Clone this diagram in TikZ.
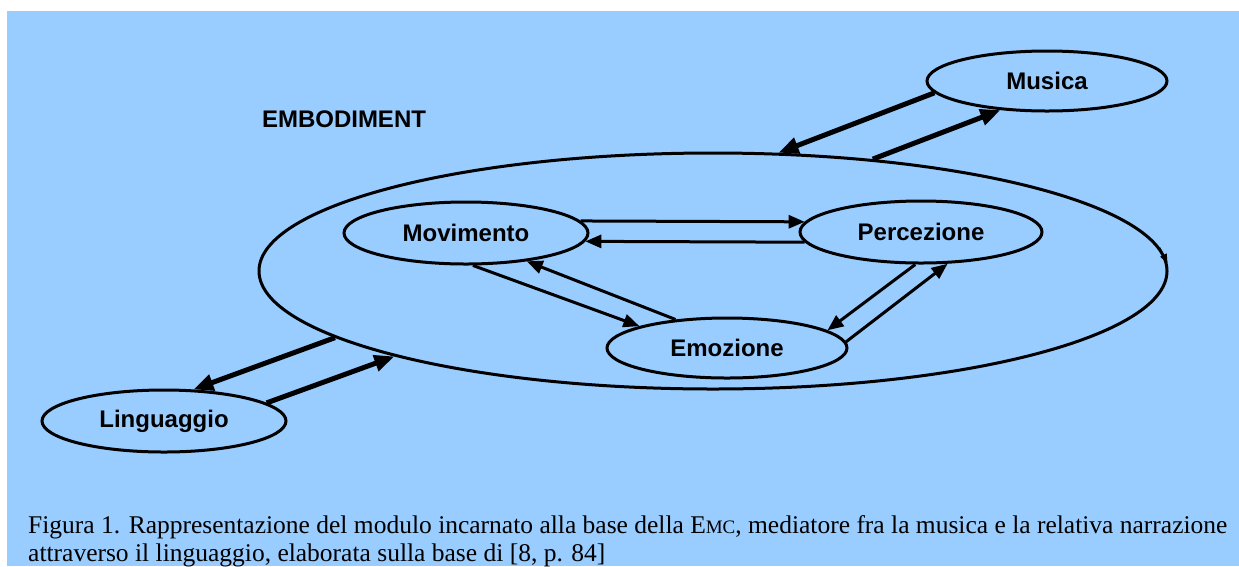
\documentclass[tikz,border=0pt]{standalone}
\usepackage{fontspec}
\setmainfont{Liberation Serif}
\newfontfamily\boxfont{Liberation Sans}
\usetikzlibrary{arrows.meta,shapes.geometric}
\definecolor{skyback}{RGB}{153,204,255}

\begin{document}
\begin{tikzpicture}[x=1pt,y=-1pt,
   bubble/.style={draw,ellipse,line width=3pt,inner sep=0pt,
      font=\boxfont\bfseries\fontsize{24}{28}\selectfont},
   link/.style={line width=3pt,-{Triangle[length=16pt,width=13pt]}},
   biglink/.style={line width=5pt,-{Triangle[length=20pt,width=16pt]}},
   captext/.style={anchor=base west,inner sep=0pt,font=\fontsize{25.5}{30}\selectfont}]
   \useasboundingbox (0,0) rectangle (1239,566);
   \fill[skyback] (7,11) rectangle (1239,566);

   \node[bubble,minimum width=908pt,minimum height=236pt] (body) at (713,271) {};
   \node[font=\boxfont\bfseries\fontsize{24}{28}\selectfont] (embod) at (344,119) {EMBODIMENT};

   \node[bubble,minimum width=244pt,minimum height=62pt] (mov) at (466,233) {Movimento};
   \node[bubble,minimum width=242pt,minimum height=62pt] (perc) at (921,232) {Percezione};
   \node[bubble,minimum width=240pt,minimum height=60pt] (emo) at (727,348) {Emozione};
   \node[bubble,minimum width=240pt,minimum height=60pt] (mus) at (1047,81) {Musica};
   \node[bubble,minimum width=244pt,minimum height=62pt] (ling) at (164,421) {Linguaggio};

   \draw[link] (mov.6) -- (perc.175);
   \draw[link] (perc.-175) -- (mov.-4);
   \draw[link] (mov.-78) -- (emo.166);
   \draw[link] (emo.151) -- (mov.-25);
   \draw[link] (perc.-100) -- (emo.10);
   \draw[link] (emo.3) -- (perc.-50);

   \draw[biglink] (mus.-174) -- (body.61);
   \draw[biglink] (body.35) -- (mus.-148);
   \draw[biglink] (body.-170) -- (ling.47);
   \draw[biglink] (ling.10) -- (body.-165);

   \draw[line width=1.2pt,-{Triangle[length=9pt,width=7pt]}] (body.3.5) -- (body.1.5);

   \node[captext] (cap1) at (28,533) {Figura 1. Rappresentazione del modulo incarnato alla base della E{\fontsize{19}{22}\selectfont MC}, mediatore fra la musica e la relativa narrazione};
   \node[captext] (cap2) at (28,561) {attraverso il linguaggio, elaborata sulla base di [8, p. 84]};
\end{tikzpicture}
\end{document}
